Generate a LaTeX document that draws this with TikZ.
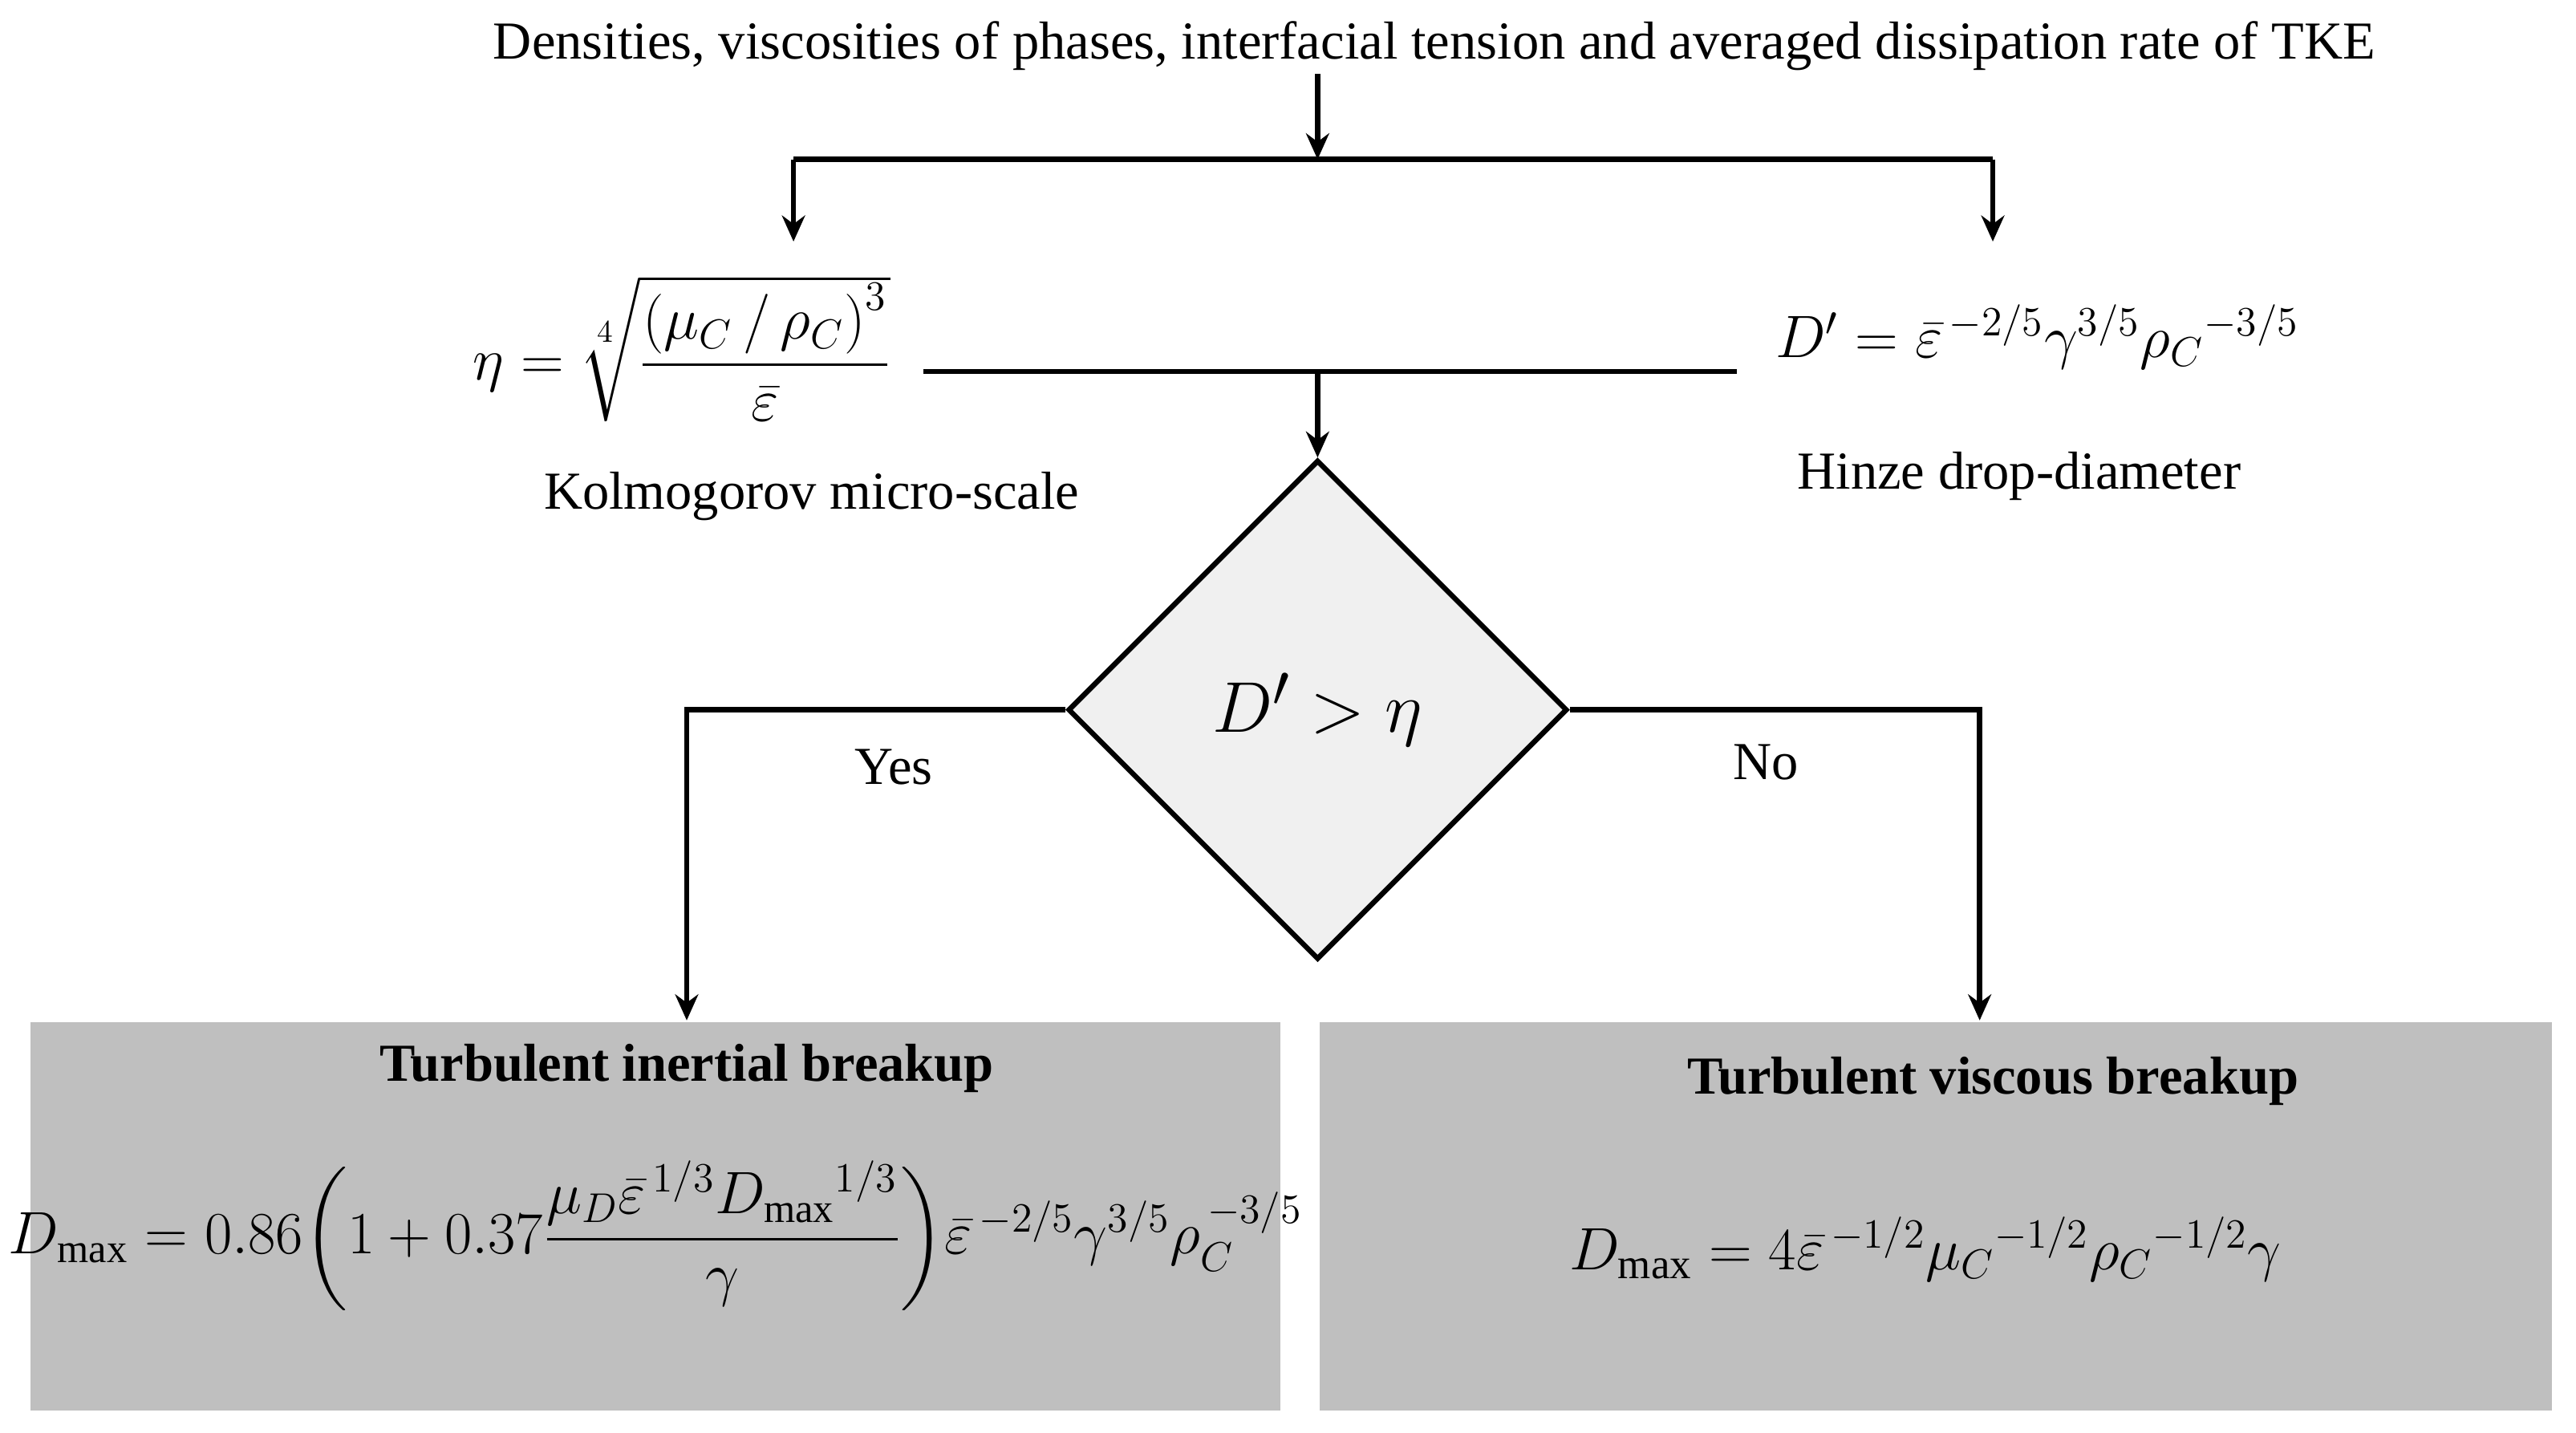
\documentclass[tikz,border=0pt]{standalone}
\usepackage{amsmath}
\usepackage{fontspec}
\setmainfont{Liberation Serif}
\usetikzlibrary{shapes.geometric,arrows.meta}
\begin{document}
\begin{tikzpicture}[x=0.02cm,y=-0.02cm,
  ln/.style={line width=1.8pt},
  ar/.style={ln,-{Stealth[length=9pt,width=8pt]}},
  txt/.style={font=\fontsize{18.5}{22}\selectfont},
  eq/.style={font=\fontsize{21}{25}\selectfont},
  box/.style={draw=none,fill=black!25,anchor=north west}]
\useasboundingbox (0,0) rectangle (1568,872);
\node[txt] (top) at (873,28) {Densities, viscosities of phases, interfacial tension and averaged dissipation rate of TKE};
\coordinate (j1) at (802,97);
\coordinate (l1) at (483,97);
\coordinate (r1) at (1213,97);
\coordinate (l2) at (483,147);
\coordinate (r2) at (1213,147);
\draw[ar] (802,45) -- (j1);
\draw[ln] (l1) -- (r1);
\draw[ar] (l1) -- (l2);
\draw[ar] (r1) -- (r2);
\node[eq] (eta) at (415,212) {$\eta=\sqrt[4]{\dfrac{\left(\mu_C\,/\,\rho_C\right)^3}{\bar\varepsilon}}$};
\node[eq] (hd) at (1240,205) {$D'=\bar\varepsilon^{\,-2/5}\gamma^{3/5}\rho_C{}^{-3/5}$};
\node[txt] (kol) at (494,302) {Kolmogorov micro-scale};
\node[txt] (hin) at (1229,290) {Hinze drop-diameter};
\coordinate (m1) at (562,226);
\coordinate (m2) at (1057,226);
\coordinate (mc) at (802,226);
\draw[ln] (m1) -- (m2);
\node[diamond,draw,ln,fill=black!6,inner sep=0pt,minimum width=6.08cm,minimum height=6.08cm,font=\fontsize{28}{32}\selectfont] (d) at (802,432) {$D'>\eta$};
\draw[ar] (mc) -- (d.north);
\node[box,minimum width=15.22cm,minimum height=4.72cm] (bl) at (18,622) {};
\node[box,minimum width=15.0cm,minimum height=4.72cm] (br) at (803,622) {};
\coordinate (yl) at (418,432);
\coordinate (yr) at (1205,432);
\draw[ar] (d.west) -- (yl) -- (418,621);
\draw[ar] (d.east) -- (yr) -- (1205,621);
\node[txt] (yes) at (544,467) {Yes};
\node[txt] (no) at (1075,464) {No};
\node[txt,font=\bfseries\fontsize{18.5}{22}\selectfont] (t1) at (418,650) {Turbulent inertial breakup};
\node[txt,font=\bfseries\fontsize{18.5}{22}\selectfont] (t2) at (1213,658) {Turbulent viscous breakup};
\node[font=\fontsize{20}{24}\selectfont] (f1) at (399,752) {$D_{\max}=0.86\biggl(1+0.37\dfrac{\mu_D\bar\varepsilon^{\,1/3}D_{\max}{}^{1/3}}{\gamma}\biggr)\bar\varepsilon^{\,-2/5}\gamma^{3/5}\rho_C^{\,-3/5}$};
\node[eq] (f2) at (1172,760) {$D_{\max}=4\bar\varepsilon^{\,-1/2}\mu_C{}^{-1/2}\rho_C{}^{-1/2}\gamma$};
\end{tikzpicture}
\end{document}
